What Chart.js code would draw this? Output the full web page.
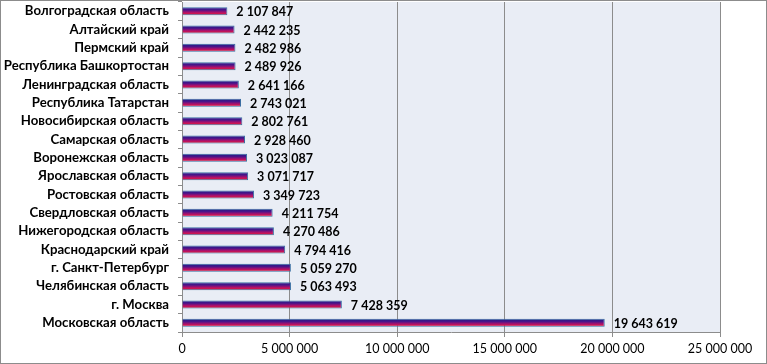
<!DOCTYPE html>
<html>
<head>
<meta charset="utf-8">
<script src="https://cdn.jsdelivr.net/npm/chart.js@4/dist/chart.umd.min.js"></script>
<style>
  html, body { margin: 0; padding: 0; background: #fff; }
  #wrap { width: 767px; height: 364px; position: relative; }
</style>
</head>
<body>
<div id="wrap"><canvas id="regionsChart" width="767" height="364"></canvas></div>
<script>
const regions = [
    'Волгоградская область', 'Алтайский край', 'Пермский край', 'Республика Башкортостан',
    'Ленинградская область', 'Республика Татарстан', 'Новосибирская область', 'Самарская область',
    'Воронежская область', 'Ярославская область', 'Ростовская область', 'Свердловская область',
    'Нижегородская область', 'Краснодарский край', 'г. Санкт-Петербург', 'Челябинская область',
    'г. Москва', 'Московская область'
];
const values = [
    2107847, 2442235, 2482986, 2489926, 2641166, 2743021, 2802761, 2928460, 3023087,
    3071717, 3349723, 4211754, 4270486, 4794416, 5059270, 5063493, 7428359, 19643619
];
const xTicks = [0, 5000000, 10000000, 15000000, 20000000, 25000000];

const fontFamily = 'Lato, "Open Sans", sans-serif';

function spaced(n) {
    return String(n).replace(/\B(?=(\d{3})+(?!\d))/g, ' ');
}

// light blue plot background + outer frame
const backdrop = {
    id: 'backdrop',
    beforeDraw(chart) {
        const { ctx, chartArea: a } = chart;
        ctx.save();
        ctx.fillStyle = '#e9edf5';
        ctx.fillRect(a.left, a.top, a.right - a.left, a.bottom - a.top);
        ctx.restore();
    },
    afterDraw(chart) {
        const ctx = chart.ctx;
        ctx.save();
        ctx.strokeStyle = '#8c8c8c';
        ctx.lineWidth = 1;
        ctx.strokeRect(0.5, 0.5, chart.width - 1, chart.height - 1);
        ctx.restore();
    }
};

// vertical blue -> purple -> red gradient on every bar
// (options are shared between bars, so each one gets its own copy)
const barGradient = {
    id: 'barGradient',
    beforeDatasetsDraw(chart) {
        const ctx = chart.ctx;
        chart.getDatasetMeta(0).data.forEach(bar => {
            const top = bar.y - bar.height / 2;
            const g = ctx.createLinearGradient(0, top, 0, top + bar.height);
            g.addColorStop(0, '#1c1a86');
            g.addColorStop(0.35, '#4a158a');
            g.addColorStop(0.65, '#b0106a');
            g.addColorStop(1, '#ee1c2c');
            bar.options = Object.assign({}, bar.options, { backgroundColor: g });
        });
    }
};

const valueLabels = {
    id: 'valueLabels',
    afterDatasetsDraw(chart) {
        const ctx = chart.ctx;
        ctx.save();
        ctx.font = 'bold 12.5px ' + fontFamily;
        ctx.fillStyle = '#000';
        ctx.textBaseline = 'middle';
        chart.getDatasetMeta(0).data.forEach((bar, i) => {
            ctx.fillText(spaced(values[i]), bar.x + 9, bar.y + 1);
        });
        ctx.restore();
    }
};

const chart = new Chart(document.getElementById('regionsChart'), {
    type: 'bar',
    data: {
        labels: regions,
        datasets: [{
            data: values,
            backgroundColor: '#6a1a80',
            borderColor: '#3b70a3',
            borderWidth: 1,
            categoryPercentage: 1,
            barPercentage: 0.44
        }]
    },
    options: {
        indexAxis: 'y',
        responsive: false,
        animation: false,
        layout: { padding: { top: 2, right: 47, left: 0, bottom: 0 } },
        plugins: { legend: { display: false }, tooltip: { enabled: false } },
        scales: {
            x: {
                min: 0,
                max: 25000000,
                afterBuildTicks(scale) { scale.ticks = xTicks.map(v => ({ value: v })); },
                afterFit(scale) { scale.height = 32; scale.paddingLeft = 0; scale.paddingRight = 0; },
                grid: { color: '#8c8c8c', tickLength: 5, lineWidth: 1 },
                border: { color: '#8c8c8c', width: 1 },
                ticks: {
                    color: '#000',
                    font: { family: fontFamily, size: 12.5 },
                    padding: 4,
                    maxRotation: 0,
                    callback: v => spaced(v)
                }
            },
            y: {
                afterFit(scale) { scale.width = 182; scale.paddingTop = 0; scale.paddingBottom = 0; },
                grid: { display: true, drawOnChartArea: false, offset: true, color: '#8c8c8c', tickLength: 4 },
                border: { color: '#8c8c8c', width: 1 },
                ticks: {
                    color: '#000',
                    font: { family: fontFamily, size: 13.2, weight: 'bold' },
                    padding: 9,
                    autoSkip: false
                }
            }
        }
    },
    plugins: [backdrop, barGradient, valueLabels]
});
</script>
</body>
</html>
